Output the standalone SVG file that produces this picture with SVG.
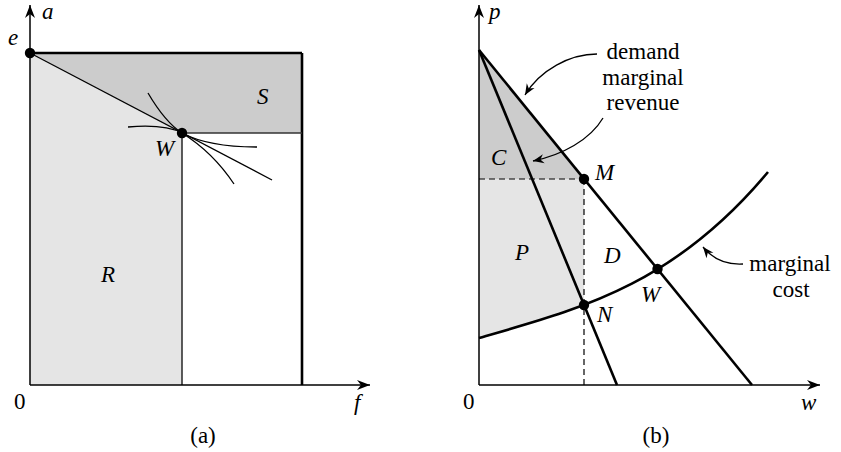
<svg xmlns="http://www.w3.org/2000/svg" width="841" height="452" viewBox="0 0 841 452">
<style>
.t{font-family:'Liberation Serif','DejaVu Serif','Times New Roman',serif;font-size:23px;fill:#000}
.i{font-style:italic}
.m{text-anchor:middle}
.ax{stroke:#000;stroke-width:1.5;fill:none}
.thick{stroke:#000;stroke-width:2.6;fill:none}
.thin{stroke:#000;stroke-width:1.3;fill:none}
.dash{stroke:#000;stroke-width:1.2;fill:none;stroke-dasharray:6 4}
.dk{fill:#cccccc;stroke:none}
.lt{fill:#e5e5e5;stroke:none}
.dot{fill:#000}
</style>
<defs>
<marker id="axa" viewBox="-14 -6 15 12" refX="0" refY="0" markerWidth="15" markerHeight="12" markerUnits="userSpaceOnUse" orient="auto">
<path d="M0,0 L-13,-5 L-9,0 L-13,5 Z" fill="#000"/>
</marker>
<marker id="sa" viewBox="-12 -5 13 10" refX="0" refY="0" markerWidth="13" markerHeight="10" markerUnits="userSpaceOnUse" orient="auto">
<path d="M0,0 L-11,-4.5 L-7.5,0 L-11,4.5 Z" fill="#000"/>
</marker>
</defs>

<g id="panel-a" font-family="Liberation Serif, DejaVu Serif, serif">
<g id="region-R"><polygon class="lt" points="30,53 182,133 182,385 30,385"/></g>
<g id="region-S"><polygon class="dk" points="30,53 302,53 302,133 182,133"/></g>
<g id="lines-a">
<line class="thick" x1="30" y1="53" x2="302" y2="53"/>
<line class="thick" x1="302" y1="53" x2="302" y2="385"/>
<line x1="182" y1="133" x2="182" y2="385" stroke="#333" stroke-width="1.6"/>
<line x1="182" y1="133" x2="302" y2="133" stroke="#333" stroke-width="1.3"/>
<line class="thin" x1="30" y1="53" x2="272" y2="180"/>
<path class="thin" d="M128,127 C146,125.5 167,125.1 182,133 C200,142.5 228,147 257,147"/>
<path class="thin" d="M148,93 C158,110 168,124 182,133 C198,143 218,160 234,184"/>
<line class="ax" x1="30" y1="385" x2="30" y2="5" marker-end="url(#axa)"/>
<line class="ax" x1="30" y1="385" x2="370" y2="385" marker-end="url(#axa)"/>
</g>
<g id="node-e"><circle class="dot" cx="30" cy="53" r="5.2"/><text class="t i" x="8" y="45">e</text></g>
<g id="node-Wa"><circle class="dot" cx="182" cy="133" r="5.2"/><text class="t i" x="155" y="156">W</text></g>
<text class="t i" x="42" y="19" font-size="22">a</text>
<text class="t i" x="257" y="104">S</text>
<text class="t i" x="101" y="282">R</text>
<text class="t" x="14" y="409">0</text>
<text class="t i" x="354" y="410">f</text>
<text class="t m" x="203" y="443">(a)</text>
</g>

<g id="panel-b" font-family="Liberation Serif, DejaVu Serif, serif">
<g id="region-C"><polygon class="dk" points="479,50 584,179 479,179"/></g>
<g id="region-P"><polygon class="lt" points="479,179 584,179 584,305 579,306.9 559,314 539,320.4 519,326.4 499,332.2 479,338"/></g>
<g id="connectors">
<line class="dash" x1="479" y1="179" x2="584" y2="179"/>
<line class="dash" x1="584" y1="179" x2="584" y2="385"/>
<line class="thick" x1="479" y1="50" x2="752" y2="385"/>
<line class="thick" x1="479" y1="50" x2="617" y2="385"/>
<path class="thick" d="M479,338 C575.3,310 671.7,287.7 768,172"/>
<line class="ax" x1="479" y1="385" x2="479" y2="5" marker-end="url(#axa)"/>
<line class="ax" x1="479" y1="385" x2="820" y2="385" marker-end="url(#axa)"/>
<path class="thin" d="M597,54 C570,54 540,70 525,95" marker-end="url(#sa)"/>
<path class="thin" d="M603,118 C590,140 562,155 533,161" marker-end="url(#sa)"/>
<path class="thin" d="M743,264 C726,265 712,258 703,247" marker-end="url(#sa)"/>
</g>
<g id="node-M"><circle class="dot" cx="584" cy="179" r="5.2"/><text class="t i" x="595" y="180">M</text></g>
<g id="node-N"><circle class="dot" cx="584" cy="305" r="5.2"/><text class="t i" x="597" y="322">N</text></g>
<g id="node-Wb"><circle class="dot" cx="657.5" cy="269" r="5.2"/><text class="t i" x="641" y="302">W</text></g>
<text class="t i" x="489" y="19" font-size="22">p</text>
<text class="t i" x="491" y="165">C</text>
<text class="t i" x="515" y="260">P</text>
<text class="t i" x="604" y="263">D</text>
<text class="t" x="463" y="409">0</text>
<text class="t i" x="801" y="410">w</text>
<text class="t m" x="656" y="443">(b)</text>
<g id="label-curves">
<text class="t m" x="643" y="59">demand</text>
<text class="t m" x="643" y="85">marginal</text>
<text class="t m" x="643" y="110">revenue</text>
</g>
<g id="label-mc">
<text class="t m" x="790" y="271">marginal</text>
<text class="t m" x="791" y="297">cost</text>
</g>
</g>
</svg>
